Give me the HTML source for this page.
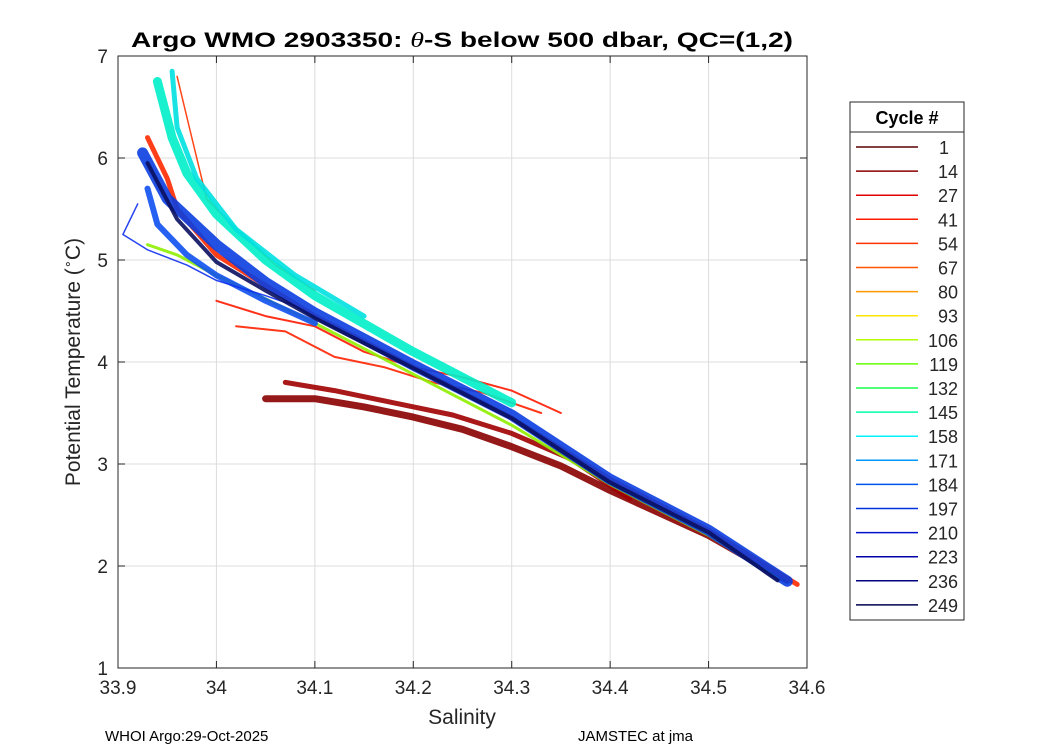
<!DOCTYPE html>
<html><head><meta charset="utf-8"><style>
html,body{margin:0;padding:0;background:#fff;}
svg{display:block;font-family:"Liberation Sans","DejaVu Sans",sans-serif;}
</style></head><body>
<svg id="chart" width="1050" height="750" viewBox="0 0 1050 750" xmlns="http://www.w3.org/2000/svg">
<rect x="0" y="0" width="1050" height="750" fill="#fff"/>
<rect x="118" y="56" width="689" height="612" fill="#fff"/>
<g id="grid"></g>
<g id="series"></g>
<rect x="118" y="56" width="689" height="612" fill="none" stroke="#262626" stroke-width="1"/>
<g id="ticks"></g>
<text x="462" y="47" text-anchor="middle" font-size="21" font-weight="bold" textLength="662" lengthAdjust="spacingAndGlyphs">Argo WMO 2903350: <tspan font-style="italic" font-weight="normal" font-family="'Liberation Serif',serif">θ</tspan>-S below 500 dbar,  QC=(1,2)</text>
<text x="462" y="724" text-anchor="middle" font-size="21" fill="#262626">Salinity</text>
<text transform="translate(80,362) rotate(-90)" text-anchor="middle" font-size="21" fill="#262626">Potential Temperature (<tspan font-size="13" dy="-8">∘</tspan><tspan dy="8">C)</tspan></text>
<text x="105" y="741" font-size="15">WHOI Argo:29-Oct-2025</text>
<text x="578" y="741" font-size="15">JAMSTEC at jma</text>
<g id="legend"></g>
</svg>
<script>
const xTicks=[33.9,34,34.1,34.2,34.3,34.4,34.5,34.6];
const xTickLabels=["33.9","34","34.1","34.2","34.3","34.4","34.5","34.6"];
const yTicks=[1,2,3,4,5,6,7];
const legendCycles=[1,14,27,41,54,67,80,93,106,119,132,145,158,171,184,197,210,223,236,249];
const legendColors=["#5a0000","#8a0000","#e00000","#ff1a00","#ff3300","#ff5500","#ff9900","#ffe600","#b3ff00","#66ff00","#1aff4d","#00ffaa","#00f0ff","#0099ff","#0055ee","#0033dd","#0011cc","#0000aa","#000080","#000050"];
// profile series: salinity and temperature arrays
const sDarkRed1=[34.05,34.1,34.15,34.2,34.25,34.3,34.35,34.4,34.45,34.5,34.58];
const tDarkRed1=[3.64,3.64,3.56,3.46,3.34,3.17,2.98,2.74,2.52,2.3,1.86];
const sDarkRed2=[34.07,34.12,34.18,34.24,34.3,34.36,34.42];
const tDarkRed2=[3.8,3.72,3.6,3.48,3.3,3.05,2.66];
const sRed1=[33.93,33.95,33.96,34.0,34.05,34.1,34.2,34.3,34.4,34.5,34.59];
const tRed1=[6.2,5.8,5.5,5.05,4.75,4.45,3.95,3.45,2.85,2.35,1.82];
const sRed2=[33.96,33.975,33.99,34.02,34.06,34.1];
const tRed2=[6.8,6.2,5.6,5.3,4.95,4.7];
const sRed3=[34.0,34.05,34.1,34.15,34.2,34.25,34.3,34.35];
const tRed3=[4.6,4.45,4.35,4.1,3.95,3.85,3.72,3.5];
const sRed4=[34.02,34.07,34.12,34.17,34.22,34.27,34.33];
const tRed4=[4.35,4.3,4.05,3.95,3.8,3.7,3.5];
const sCyan1=[33.94,33.955,33.97,34.0,34.05,34.1,34.2,34.3];
const tCyan1=[6.75,6.2,5.85,5.45,5.0,4.65,4.1,3.6];
const sCyan2=[33.955,33.96,33.98,34.02,34.08,34.15];
const tCyan2=[6.85,6.3,5.8,5.3,4.85,4.45];
const sGreen=[33.93,33.96,34.0,34.05,34.1,34.2,34.3,34.4,34.5,34.57];
const tGreen=[5.15,5.05,4.85,4.62,4.38,3.88,3.38,2.8,2.3,1.88];
const sBlue1=[33.925,33.95,34.0,34.05,34.1,34.2,34.3,34.4,34.5,34.58];
const tBlue1=[6.05,5.6,5.15,4.78,4.48,3.97,3.48,2.85,2.35,1.85];
const sBlue2=[33.93,33.94,33.97,34.0,34.05,34.1];
const tBlue2=[5.7,5.35,5.05,4.85,4.6,4.38];
const sNavy=[33.93,33.96,34.0,34.05,34.1,34.2,34.3,34.4,34.5,34.57];
const tNavy=[5.95,5.4,4.98,4.7,4.43,3.94,3.45,2.82,2.33,1.86];
const sBlueOut=[33.92,33.905,33.93,33.97,34.0,34.05,34.08];
const tBlueOut=[5.55,5.25,5.1,4.95,4.8,4.65,4.55];
const seriesList=[
 {name:"cycle-1",s:sDarkRed1,t:tDarkRed1,c:"#8a0000",w:7},
 {name:"cycle-14",s:sDarkRed2,t:tDarkRed2,c:"#a00000",w:5},
 {name:"cycle-27",s:sRed3,t:tRed3,c:"#ff1a00",w:2},
 {name:"cycle-41",s:sRed4,t:tRed4,c:"#ff2200",w:2},
 {name:"cycle-54",s:sRed1,t:tRed1,c:"#ff2a00",w:5},
 {name:"cycle-67",s:sRed2,t:tRed2,c:"#ff3300",w:1.5},
 {name:"cycle-145",s:sCyan1,t:tCyan1,c:"#00eec8",w:9},
 {name:"cycle-158",s:sCyan2,t:tCyan2,c:"#00e0e0",w:5},
 {name:"cycle-119",s:sGreen,t:tGreen,c:"#8ff000",w:3},
 {name:"cycle-184",s:sBlue1,t:tBlue1,c:"#0a3ee0",w:11},
 {name:"cycle-197",s:sBlue2,t:tBlue2,c:"#1050f0",w:6},
 {name:"cycle-210",s:sBlueOut,t:tBlueOut,c:"#1030f0",w:1.5},
 {name:"cycle-249",s:sNavy,t:tNavy,c:"#0a1060",w:4}
];
const NS="http://www.w3.org/2000/svg";
const X0=118,X1=807,Y0=668,Y1=56;
function xScale(s){return X0+(s-33.9)/(34.6-33.9)*(X1-X0);}
function yScale(t){return Y0-(t-1)/(7-1)*(Y0-Y1);}
function mk(tag,attrs,parent){const e=document.createElementNS(NS,tag);for(const k in attrs)e.setAttribute(k,attrs[k]);parent.appendChild(e);return e;}
const grid=document.getElementById('grid'),ticks=document.getElementById('ticks'),ser=document.getElementById('series'),leg=document.getElementById('legend');
xTicks.forEach((v,i)=>{const x=xScale(v);
 const g=mk('line',{x1:x,x2:x,y1:Y1,y2:Y0,stroke:'#dcdcdc','stroke-width':1},grid);
 
 
 mk('line',{x1:x,x2:x,y1:Y0,y2:Y0-7,stroke:'#262626'},ticks);
 mk('line',{x1:x,x2:x,y1:Y1,y2:Y1+7,stroke:'#262626'},ticks);
 const t=mk('text',{x:x,y:Y0+26,'text-anchor':'middle','font-size':19,fill:'#262626'},ticks);
 t.textContent=xTickLabels[i];
 
 
});
yTicks.forEach(v=>{const y=yScale(v);
 const g=mk('line',{x1:X0,x2:X1,y1:y,y2:y,stroke:'#dcdcdc','stroke-width':1},grid);
 
 
 mk('line',{x1:X0,x2:X0+7,y1:y,y2:y,stroke:'#262626'},ticks);
 mk('line',{x1:X1,x2:X1-7,y1:y,y2:y,stroke:'#262626'},ticks);
 const t=mk('text',{x:X0-10,y:y+7,'text-anchor':'end','font-size':19,fill:'#262626'},ticks);
 t.textContent=String(v);
 
 
});
seriesList.forEach(sr=>{
 const d=sr.s.map((s,i)=>(i?'L':'M')+xScale(s).toFixed(1)+','+yScale(sr.t[i]).toFixed(1)).join(' ');
 const p=mk('path',{d:d,fill:'none',stroke:sr.c,'stroke-width':sr.w,'stroke-linejoin':'round','stroke-linecap':'round','stroke-opacity':0.9},ser);
 
 
});
// legend
const LX=850,LY=102,LW=114,LH=518;
mk('rect',{x:LX,y:LY,width:LW,height:LH,fill:'#fff',stroke:'#262626'},leg);
mk('line',{x1:LX,x2:LX+LW,y1:LY+30,y2:LY+30,stroke:'#262626'},leg);
const lt=mk('text',{x:LX+LW/2,y:LY+22,'text-anchor':'middle','font-size':18,'font-weight':'bold'},leg);
lt.textContent='Cycle #';


legendCycles.forEach((c,i)=>{const y=LY+45+i*24.1;
 const l=mk('line',{x1:LX+6,x2:LX+68,y1:y,y2:y,stroke:legendColors[i],'stroke-width':1.5},leg);
 
 
 const t=mk('text',{x:String(c).length===1?LX+99:LX+108,y:y+7,'text-anchor':'end','font-size':18,fill:'#262626'},leg);
 t.textContent=String(c);
 
 
});
</script>
</body></html>
